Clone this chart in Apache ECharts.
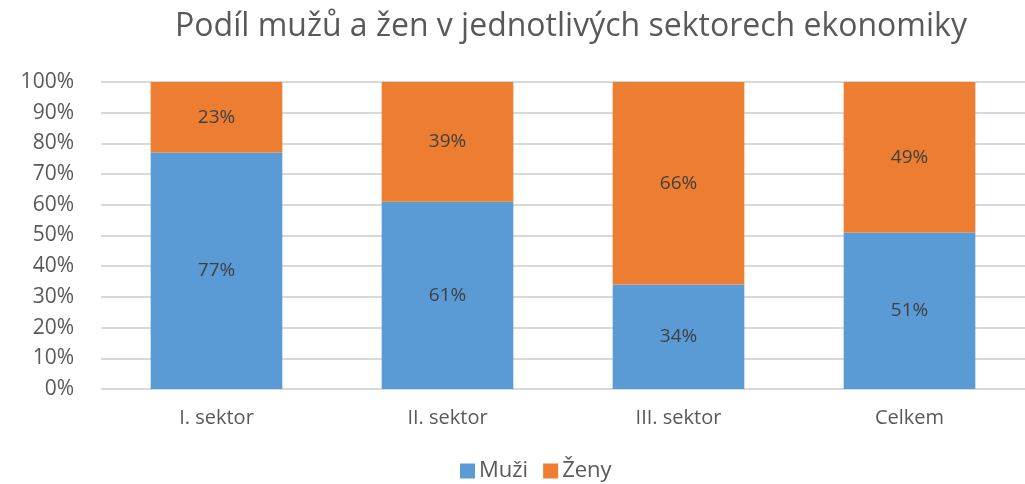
<!DOCTYPE html>
<html>
<head>
<meta charset="utf-8">
<script src="https://cdn.jsdelivr.net/npm/echarts@6/dist/echarts.min.js"></script>
<style>
  html, body { margin: 0; padding: 0; background: #fff; }
  #chart { width: 1025px; height: 484px; }
</style>
</head>
<body>
<div id="chart"></div>
<script>
var categories = ["I. sektor", "II. sektor", "III. sektor", "Celkem"];
var muzi = [77, 61, 34, 51];
var zeny = [23, 39, 66, 49];
var yTicks = [0, 10, 20, 30, 40, 50, 60, 70, 80, 90, 100];

var font = "'Open Sans', sans-serif";
var myChart = echarts.init(document.getElementById("chart"));

myChart.setOption({
  animation: false,
  textStyle: { fontFamily: font },
  title: {
    text: "Podíl mužů a žen v jednotlivých sektorech ekonomiky",
    left: 566,
    textAlign: "center",
    top: 6,
    textStyle: { color: "#595959", fontSize: 32, fontWeight: "normal", fontFamily: font }
  },
  legend: {
    data: ["Muži", "Ženy"],
    top: 455,
    left: 455,
    itemWidth: 15,
    itemHeight: 15,
    itemGap: 15,
    icon: "rect",
    textStyle: { color: "#595959", fontSize: 22, fontFamily: font, padding: [0, 0, 0, -1] }
  },
  grid: { left: 101, right: 0, top: 82, bottom: 95 },
  xAxis: {
    type: "category",
    data: categories,
    axisTick: { show: false },
    axisLine: { show: false },
    axisLabel: { color: "#595959", fontSize: 20, margin: 19, fontFamily: font }
  },
  yAxis: {
    type: "value",
    min: 0,
    max: 100,
    interval: 10,
    axisLine: { show: false },
    axisTick: { show: false },
    splitLine: { lineStyle: { color: "#d9d9d9", width: 2 } },
    axisLabel: {
      color: "#595959",
      fontSize: 21,
      margin: 27,
      fontFamily: font,
      formatter: function (v) { return yTicks.indexOf(v) >= 0 ? v + "%" : ""; }
    }
  },
  series: [
    {
      name: "Muži",
      type: "bar",
      stack: "total",
      barWidth: "57%",
      data: muzi,
      itemStyle: { color: "#5b9bd5" },
      label: {
        show: true,
        position: "inside",
        color: "#404040",
        fontSize: 19,
        fontFamily: font,
        formatter: "{c}%"
      }
    },
    {
      name: "Ženy",
      type: "bar",
      stack: "total",
      barWidth: "57%",
      data: zeny,
      itemStyle: { color: "#ed7d31" },
      label: {
        show: true,
        position: "inside",
        color: "#404040",
        fontSize: 19,
        fontFamily: font,
        formatter: "{c}%"
      }
    }
  ]
});
</script>
</body>
</html>
